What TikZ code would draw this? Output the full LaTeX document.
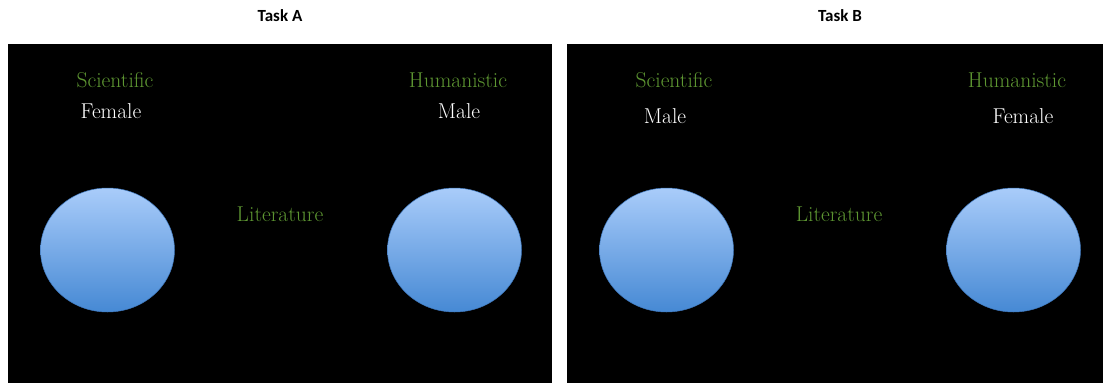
\documentclass[tikz,border=0pt]{standalone}
\usepackage{fontspec}
\newfontfamily\titlefont{Carlito}[BoldFont={* Bold}]
\usetikzlibrary{shapes.geometric}

\definecolor{labelgreen}{HTML}{5E9732}
\definecolor{balltop}{HTML}{A9CCFA}
\definecolor{ballbottom}{HTML}{4689D4}
\definecolor{ballrim}{HTML}{3F78BD}

\tikzset{
    panel/.style={fill=black, draw=none},
    tasktitle/.style={font=\titlefont\bfseries\fontsize{17}{20}\selectfont, text=black, anchor=base},
    field/.style={font=\rmfamily\fontsize{21.5}{25}\selectfont, text=labelgreen, anchor=base, inner sep=0pt},
    gender/.style={font=\rmfamily\fontsize{21.5}{25}\selectfont, text=white, anchor=base, inner sep=0pt},
    ball/.style={ellipse, minimum width=134pt, minimum height=124pt, inner sep=0pt,
        top color=balltop, bottom color=ballbottom, draw=ballrim, line width=0.5pt}
}

\begin{document}
\begin{tikzpicture}[x=1pt, y=-1pt]
    \useasboundingbox (0,0) rectangle (1103,383);
    \fill[white] (0,0) rectangle (1103,383);

    % 两个黑色面板
    \fill[panel] (8,44) rectangle (552,383);
    \fill[panel] (567,44) rectangle (1103,383);

    % 标题
    \node[tasktitle] (titleA) at (280,21) {Task A};
    \node[tasktitle] (titleB) at (840,21) {Task B};

    % Task A
    \node[field] (sciA) at (115,87) {Scientific};
    \node[gender] (sexSciA) at (111,118) {Female};
    \node[field] (humA) at (458,87) {Humanistic};
    \node[gender] (sexHumA) at (459,118) {Male};
    \node[field] (litA) at (280,221) {Literature};
    \node[ball] (ballSciA) at (107.5,250) {};
    \node[ball] (ballHumA) at (454.5,250) {};

    % Task B
    \node[field] (sciB) at (674,87) {Scientific};
    \node[gender] (sexSciB) at (665,123) {Male};
    \node[field] (humB) at (1017,87) {Humanistic};
    \node[gender] (sexHumB) at (1023,123) {Female};
    \node[field] (litB) at (839,221) {Literature};
    \node[ball] (ballSciB) at (666.5,250) {};
    \node[ball] (ballHumB) at (1013.5,250) {};

\end{tikzpicture}
\end{document}
